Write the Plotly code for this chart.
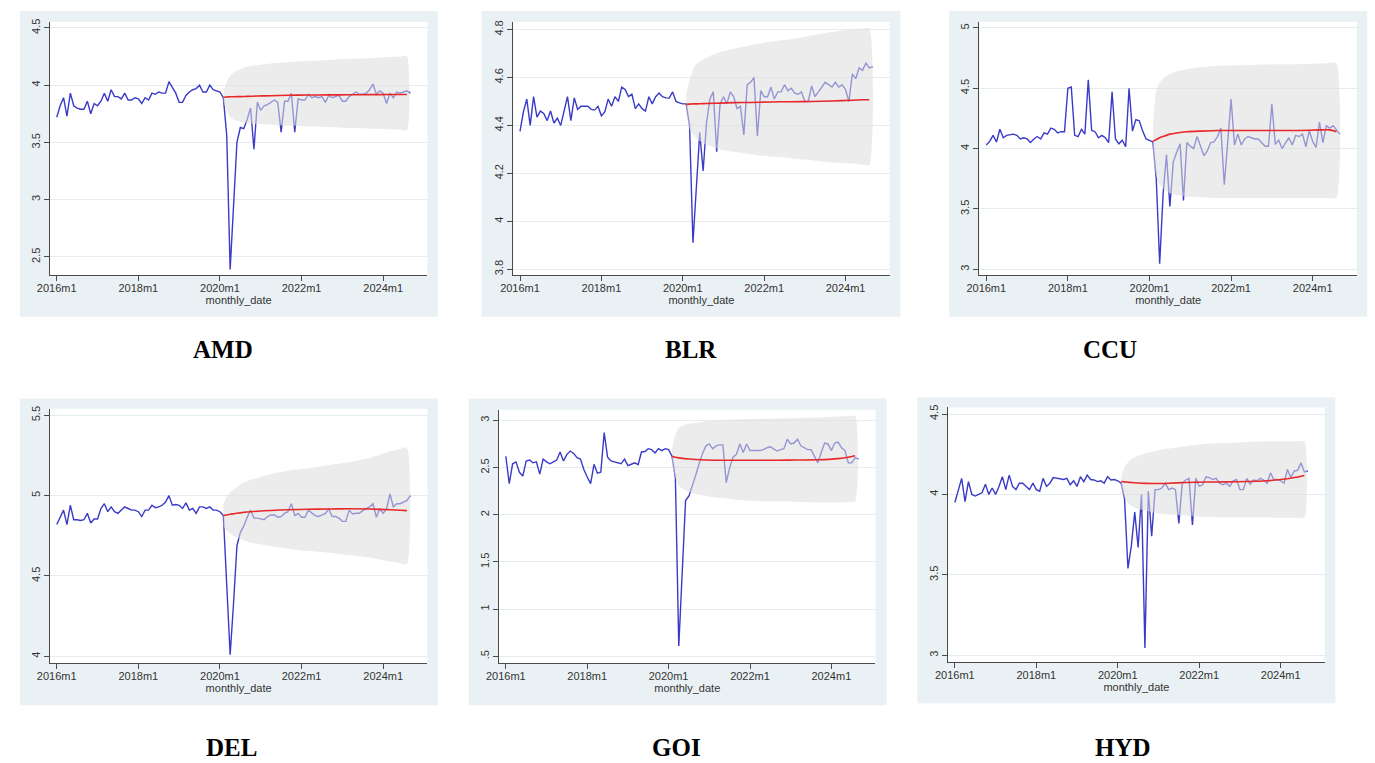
import plotly.graph_objects as go

W, H = 1375, 763

# ---------------- data ----------------
months = list(range(105))  # 0 = 2016m1 ... 104 = 2024m9
fc_months = [49, 50, 51, 52, 54, 56, 59, 63, 68, 74, 80, 86, 92, 98, 101, 103]

x_tickvals = [0, 24, 48, 72, 96]
x_ticktext = ["2016m1", "2018m1", "2020m1", "2022m1", "2024m1"]

amd = [3.72, 3.82, 3.89, 3.73, 3.93, 3.82, 3.80, 3.79, 3.79, 3.86,
       3.75, 3.84, 3.82, 3.86, 3.93, 3.86, 3.96, 3.90, 3.90, 3.88,
       3.93, 3.87, 3.87, 3.89, 3.88, 3.84, 3.89, 3.87, 3.93, 3.92,
       3.94, 3.93, 3.93, 4.03, 3.98, 3.93, 3.85, 3.85, 3.91, 3.94,
       3.96, 3.97, 4.00, 3.94, 3.94, 4.00, 3.96, 3.95, 3.94, 3.89,
       3.56, 2.39, 2.97, 3.50, 3.63, 3.62, 3.70, 3.80, 3.44, 3.85,
       3.78, 3.82, 3.83, 3.85, 3.87, 3.85, 3.59, 3.86, 3.86, 3.93,
       3.59, 3.88, 3.87, 3.87, 3.92, 3.89, 3.90, 3.89, 3.90, 3.85,
       3.91, 3.89, 3.90, 3.91, 3.86, 3.86, 3.90, 3.92, 3.94, 3.92,
       3.92, 3.93, 3.96, 4.01, 3.92, 3.95, 3.93, 3.84, 3.93, 3.89,
       3.94, 3.93, 3.94, 3.95, 3.93]
amd_fc = [3.895, 3.897, 3.898, 3.899, 3.900, 3.902, 3.905, 3.908, 3.912, 3.914,
          3.915, 3.916, 3.917, 3.918, 3.918, 3.919]
amd_hi = [3.93, 4.03, 4.08, 4.11, 4.14, 4.16, 4.175, 4.19, 4.20, 4.21,
          4.22, 4.23, 4.235, 4.245, 4.25, 4.25]
amd_lo = [3.86, 3.77, 3.72, 3.70, 3.68, 3.67, 3.66, 3.655, 3.645, 3.64,
          3.635, 3.625, 3.62, 3.615, 3.61, 3.605]

blr = [4.375, 4.456, 4.51, 4.40, 4.52, 4.435, 4.46, 4.45, 4.42, 4.46,
       4.41, 4.43, 4.40, 4.46, 4.52, 4.42, 4.515, 4.467, 4.48, 4.48,
       4.48, 4.467, 4.464, 4.48, 4.44, 4.456, 4.51, 4.48, 4.52, 4.50,
       4.56, 4.55, 4.52, 4.53, 4.47, 4.49, 4.47, 4.46, 4.52, 4.49,
       4.52, 4.535, 4.52, 4.515, 4.514, 4.54, 4.50, 4.494, 4.49, 4.49,
       4.40, 3.91, 4.136, 4.37, 4.21, 4.41, 4.51, 4.54, 4.29, 4.49,
       4.52, 4.49, 4.54, 4.52, 4.47, 4.48, 4.36, 4.57, 4.58, 4.60,
       4.355, 4.545, 4.52, 4.52, 4.56, 4.51, 4.54, 4.54, 4.57, 4.545,
       4.555, 4.535, 4.53, 4.54, 4.50, 4.50, 4.565, 4.52, 4.54, 4.56,
       4.58, 4.57, 4.56, 4.58, 4.56, 4.57, 4.55, 4.50, 4.615, 4.595,
       4.64, 4.63, 4.66, 4.64, 4.645]
blr_fc = [4.488, 4.489, 4.490, 4.490, 4.491, 4.492, 4.493, 4.495, 4.496, 4.498,
          4.499, 4.500, 4.502, 4.505, 4.507, 4.507]
blr_hi = [4.53, 4.59, 4.63, 4.655, 4.675, 4.69, 4.705, 4.72, 4.735, 4.75,
          4.76, 4.775, 4.79, 4.80, 4.805, 4.805]
blr_lo = [4.45, 4.385, 4.36, 4.345, 4.325, 4.315, 4.30, 4.29, 4.28, 4.27,
          4.263, 4.255, 4.245, 4.24, 4.236, 4.235]

ccu = [4.03, 4.06, 4.11, 4.055, 4.16, 4.09, 4.11, 4.115, 4.12, 4.11,
       4.08, 4.09, 4.08, 4.05, 4.08, 4.10, 4.08, 4.13, 4.12, 4.17,
       4.16, 4.13, 4.14, 4.14, 4.50, 4.51, 4.11, 4.10, 4.16, 4.12,
       4.57, 4.15, 4.14, 4.09, 4.11, 4.09, 4.05, 4.47, 4.08, 4.04,
       4.07, 4.015, 4.50, 4.145, 4.24, 4.23, 4.145, 4.08, 4.07, 4.055,
       3.75, 3.045, 3.62, 3.95, 3.52, 3.89, 3.97, 4.04, 3.57, 4.05,
       4.02, 4.00, 4.10, 4.02, 3.94, 3.98, 4.05, 4.055, 4.10, 4.17,
       3.70, 4.05, 4.41, 4.03, 4.12, 4.03, 4.08, 4.10, 4.09, 4.08,
       4.08, 4.05, 4.02, 4.02, 4.37, 4.035, 4.07, 4.00, 4.05, 4.09,
       4.03, 4.11, 4.10, 4.12, 4.015, 4.15, 4.06, 4.01, 4.22, 4.05,
       4.19, 4.17, 4.19, 4.15, 4.12]
ccu_fc = [4.06, 4.075, 4.09, 4.10, 4.12, 4.13, 4.14, 4.145, 4.15, 4.15,
          4.15, 4.15, 4.15, 4.155, 4.155, 4.14]
ccu_hi = [4.20, 4.48, 4.55, 4.58, 4.62, 4.64, 4.66, 4.675, 4.685, 4.69,
          4.695, 4.70, 4.70, 4.705, 4.71, 4.71]
ccu_lo = [3.93, 3.77, 3.70, 3.67, 3.63, 3.615, 3.60, 3.595, 3.59, 3.59,
          3.59, 3.59, 3.59, 3.59, 3.59, 3.59]

dele = [4.82, 4.866, 4.91, 4.82, 4.94, 4.85, 4.85, 4.845, 4.85, 4.89,
        4.83, 4.855, 4.855, 4.92, 4.95, 4.90, 4.93, 4.90, 4.89, 4.91,
        4.93, 4.92, 4.91, 4.91, 4.90, 4.87, 4.91, 4.91, 4.94, 4.925,
        4.93, 4.94, 4.96, 5.00, 4.94, 4.945, 4.94, 4.92, 4.955, 4.91,
        4.92, 4.89, 4.93, 4.93, 4.92, 4.93, 4.91, 4.91, 4.90, 4.876,
        4.45, 4.01, 4.33, 4.69, 4.77, 4.81, 4.865, 4.91, 4.86, 4.86,
        4.855, 4.85, 4.87, 4.88, 4.88, 4.866, 4.87, 4.89, 4.90, 4.95,
        4.876, 4.89, 4.866, 4.866, 4.91, 4.89, 4.876, 4.87, 4.88, 4.89,
        4.917, 4.87, 4.87, 4.86, 4.84, 4.84, 4.91, 4.886, 4.89, 4.89,
        4.907, 4.92, 4.93, 4.95, 4.866, 4.92, 4.89, 4.917, 5.01, 4.93,
        4.95, 4.95, 4.96, 4.97, 5.00]
del_fc = [4.876, 4.880, 4.884, 4.887, 4.893, 4.898, 4.903, 4.908, 4.912, 4.915,
          4.917, 4.918, 4.917, 4.912, 4.909, 4.907]
del_hi = [4.95, 4.99, 5.02, 5.04, 5.07, 5.09, 5.11, 5.135, 5.155, 5.17,
          5.19, 5.21, 5.235, 5.275, 5.29, 5.30]
del_lo = [4.81, 4.78, 4.765, 4.75, 4.73, 4.715, 4.70, 4.685, 4.67, 4.655,
          4.645, 4.63, 4.615, 4.59, 4.58, 4.575]

goi = [2.62, 2.33, 2.54, 2.56, 2.45, 2.41, 2.57, 2.58, 2.55, 2.56,
       2.43, 2.59, 2.56, 2.54, 2.56, 2.58, 2.665, 2.57, 2.64, 2.675,
       2.65, 2.605, 2.59, 2.48, 2.40, 2.33, 2.535, 2.44, 2.45, 2.87,
       2.61, 2.57, 2.56, 2.55, 2.54, 2.59, 2.52, 2.535, 2.55, 2.53,
       2.665, 2.67, 2.70, 2.69, 2.655, 2.70, 2.68, 2.70, 2.69, 2.62,
       2.39, 0.61, 1.40, 2.15, 2.20, 2.30, 2.42, 2.54, 2.65, 2.73,
       2.75, 2.70, 2.73, 2.74, 2.74, 2.34, 2.50, 2.61, 2.64, 2.75,
       2.66, 2.75, 2.68, 2.68, 2.68, 2.68, 2.69, 2.71, 2.72, 2.70,
       2.675, 2.69, 2.70, 2.80, 2.75, 2.76, 2.80, 2.73, 2.71, 2.69,
       2.69, 2.62, 2.55, 2.66, 2.76, 2.75, 2.68, 2.76, 2.77, 2.71,
       2.68, 2.55, 2.55, 2.605, 2.59]
goi_fc = [2.62, 2.61, 2.603, 2.597, 2.59, 2.585, 2.58, 2.578, 2.578, 2.578,
          2.578, 2.58, 2.582, 2.595, 2.61, 2.625]
goi_hi = [2.70, 2.85, 2.92, 2.945, 2.965, 2.975, 2.99, 3.00, 3.01, 3.015,
          3.02, 3.025, 3.03, 3.04, 3.045, 3.045]
goi_lo = [2.53, 2.39, 2.31, 2.28, 2.24, 2.22, 2.20, 2.18, 2.16, 2.145,
          2.14, 2.135, 2.13, 2.13, 2.135, 2.14]

hyd = [3.95, 4.03, 4.10, 3.955, 4.08, 4.00, 3.99, 4.00, 4.01, 4.064,
       4.00, 4.04, 4.00, 4.05, 4.11, 4.03, 4.12, 4.05, 4.03, 4.07,
       4.07, 4.05, 4.03, 4.07, 4.03, 4.02, 4.10, 4.05, 4.07, 4.105,
       4.10, 4.095, 4.093, 4.10, 4.06, 4.085, 4.05, 4.11, 4.08, 4.12,
       4.093, 4.09, 4.08, 4.085, 4.07, 4.11, 4.09, 4.093, 4.085, 4.07,
       3.975, 3.54, 3.68, 3.89, 3.67, 4.00, 3.045, 4.02, 3.74, 4.03,
       4.03, 4.04, 4.07, 4.03, 4.04, 4.03, 3.82, 4.07, 4.09, 4.10,
       3.81, 4.10, 4.05, 4.06, 4.11, 4.105, 4.093, 4.10, 4.07, 4.06,
       4.07, 4.05, 4.085, 4.093, 4.03, 4.03, 4.10, 4.064, 4.09, 4.085,
       4.10, 4.09, 4.07, 4.134, 4.093, 4.093, 4.085, 4.07, 4.155, 4.105,
       4.146, 4.15, 4.196, 4.14, 4.146]
hyd_fc = [4.08, 4.078, 4.076, 4.074, 4.071, 4.069, 4.068, 4.07, 4.074, 4.077,
          4.078, 4.08, 4.085, 4.098, 4.108, 4.118]
hyd_hi = [4.11, 4.17, 4.20, 4.22, 4.24, 4.255, 4.27, 4.285, 4.30, 4.315,
          4.32, 4.325, 4.33, 4.33, 4.33, 4.33]
hyd_lo = [4.04, 3.98, 3.95, 3.93, 3.91, 3.90, 3.885, 3.875, 3.868, 3.86,
          3.858, 3.858, 3.856, 3.855, 3.855, 3.855]

city_names = ["AMD", "BLR", "CCU", "DEL", "GOI", "HYD"]

amd_yticks = [2.5, 3, 3.5, 4, 4.5]
amd_ytext = ["2.5", "3", "3.5", "4", "4.5"]
blr_yticks = [3.8, 4, 4.2, 4.4, 4.6, 4.8]
blr_ytext = ["3.8", "4", "4.2", "4.4", "4.6", "4.8"]
ccu_yticks = [3, 3.5, 4, 4.5, 5]
ccu_ytext = ["3", "3.5", "4", "4.5", "5"]
del_yticks = [4, 4.5, 5, 5.5]
del_ytext = ["4", "4.5", "5", "5.5"]
goi_yticks = [0.5, 1, 1.5, 2, 2.5, 3]
goi_ytext = [".5", "1", "1.5", "2", "2.5", "3"]
hyd_yticks = [3, 3.5, 4, 4.5]
hyd_ytext = ["3", "3.5", "4", "4.5"]

series = [amd, blr, ccu, dele, goi, hyd]
fcs = [amd_fc, blr_fc, ccu_fc, del_fc, goi_fc, hyd_fc]
his = [amd_hi, blr_hi, ccu_hi, del_hi, goi_hi, hyd_hi]
los = [amd_lo, blr_lo, ccu_lo, del_lo, goi_lo, hyd_lo]
yticks = [amd_yticks, blr_yticks, ccu_yticks, del_yticks, goi_yticks, hyd_yticks]
ytexts = [amd_ytext, blr_ytext, ccu_ytext, del_ytext, goi_ytext, hyd_ytext]

# ---------------- layout geometry (pixels) ----------------
plot_px = [  # x0, x1, ytop, ybottom
    (37.3, 418.3, 19, 273),
    (505, 885, 19, 273),
    (975.7, 1356.7, 19, 273),
    (37.3, 418.3, 407.3, 662.7),
    (490.7, 870.7, 408.3, 662.7),
    (944, 1324.3, 406, 661.7),
]
yranges = [(2.343, 4.552), (3.776, 4.832), (2.953, 5.05),
           (3.958, 5.541), (0.429, 3.113), (2.958, 4.541)]
box_px = [
    (7, 429, 8, 315),
    (473, 896, 8, 315),
    (945, 1367, 8, 315),
    (7, 429, 397, 705),
    (460, 882, 397, 705),
    (913, 1335, 396, 703),
]
label_px = [(212, 348), (684, 348), (1107, 348), (221, 747), (670, 747), (1121, 747)]

BLUE = "rgb(58,58,200)"
RED = "rgb(232,40,40)"
BAND = "rgba(222,222,222,0.56)"
BG = "#EAF1F4"
GRID = "#E3EDF0"
AXC = "#4a4a4a"
TFONT = dict(family="Liberation Sans, Arial, sans-serif", size=11, color="#333333")


def px2x(v):
    return v / W


def px2y(v):
    return 1 - v / H


fig = go.Figure()
shapes = []
annotations = []

for i in range(6):
    k = "" if i == 0 else str(i + 1)
    xa, ya = "x" + k, "y" + k
    # observed series
    fig.add_trace(go.Scatter(x=months, y=series[i], mode="lines",
                             line=dict(color=BLUE, width=1.4),
                             xaxis=xa, yaxis=ya, showlegend=False, hoverinfo="skip"))
    # forecast interval band (semi-transparent, drawn over the observed line)
    fig.add_trace(go.Scatter(x=fc_months + fc_months[::-1],
                             y=his[i] + los[i][::-1],
                             mode="lines", fill="toself", fillcolor=BAND,
                             line=dict(width=0, shape="spline", smoothing=0.6),
                             xaxis=xa, yaxis=ya, showlegend=False, hoverinfo="skip"))
    # forecast line
    fig.add_trace(go.Scatter(x=fc_months, y=fcs[i], mode="lines",
                             line=dict(color=RED, width=1.6, shape="spline", smoothing=0.6),
                             xaxis=xa, yaxis=ya, showlegend=False, hoverinfo="skip"))

    x0, x1, yt, yb = plot_px[i]
    fig.layout["xaxis" + k] = dict(
        domain=[px2x(x0), px2x(x1)], anchor=ya, range=[-2, 109],
        tickvals=x_tickvals, ticktext=x_ticktext, ticks="outside", ticklen=5,
        tickcolor=AXC, tickwidth=1, showline=True, linecolor=AXC, linewidth=1,
        showgrid=False, zeroline=False, tickfont=TFONT, ticklabelstandoff=-2,
        title=dict(text="monthly_date", font=TFONT, standoff=0), fixedrange=True)
    fig.layout["yaxis" + k] = dict(
        domain=[px2y(yb), px2y(yt)], anchor=xa, range=list(yranges[i]),
        tickvals=yticks[i], ticktext=ytexts[i], ticks="outside", ticklen=5,
        tickcolor=AXC, tickwidth=1, showline=True, linecolor=AXC, linewidth=1,
        showgrid=True, gridcolor=GRID, gridwidth=1, zeroline=False,
        tickangle=-90, tickfont=TFONT, fixedrange=True)

    bx0, bx1, by0, by1 = box_px[i]
    shapes.append(dict(type="rect", xref="paper", yref="paper", layer="below",
                       x0=px2x(bx0), x1=px2x(bx1), y0=px2y(by1), y1=px2y(by0),
                       fillcolor=BG, line=dict(width=0)))
    shapes.append(dict(type="rect", xref="paper", yref="paper", layer="below",
                       x0=px2x(x0), x1=px2x(x1), y0=px2y(yb), y1=px2y(yt),
                       fillcolor="white", line=dict(width=0)))
    lx, ly = label_px[i]
    annotations.append(dict(text="<b>" + city_names[i] + "</b>", xref="paper", yref="paper",
                            x=px2x(lx), y=px2y(ly), xanchor="center", yanchor="middle",
                            showarrow=False,
                            font=dict(family="Liberation Serif, Times New Roman, serif",
                                      size=25, color="black")))

fig.update_layout(width=W, height=H, margin=dict(l=0, r=0, t=0, b=0),
                  paper_bgcolor="white", plot_bgcolor="rgba(0,0,0,0)",
                  shapes=shapes, annotations=annotations, showlegend=False)

fig.write_html("out.html")
